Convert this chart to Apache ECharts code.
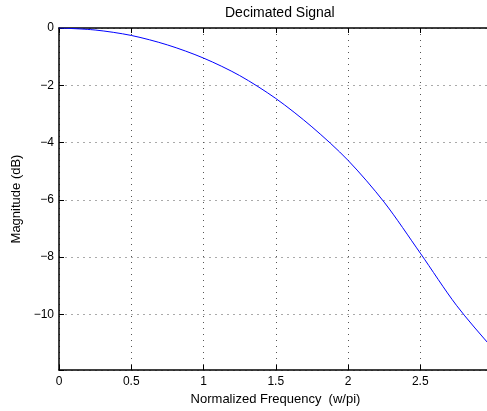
<!DOCTYPE html>
<html><head><meta charset="utf-8">
<script src="https://cdn.jsdelivr.net/npm/echarts@6/dist/echarts.min.js"></script>
<style>html,body{margin:0;padding:0;background:#fff}#c{width:487px;height:411px}</style>
</head><body><div id="c"></div>
<script>
const freq = [0, 0.25, 0.5, 0.75, 1.0, 1.25, 1.5, 1.75, 2.0, 2.25, 2.5, 2.75, 3.0, 3.1416];
const magnitude = [0, -0.07, -0.26, -0.59, -1.05, -1.66, -2.46, -3.45, -4.62, -6.08, -7.86, -9.68, -11.18, -11.94];
const xTickLabels = ['0', '0.5', '1', '1.5', '2', '2.5', '3'];
const yTickValues = [-10, -8, -6, -4, -2, 0];
const titleText = 'Decimated Signal';
const xName = 'Normalized Frequency  (w/pi)';
const yName = 'Magnitude (dB)';

const font = 'Liberation Sans, Arial, Helvetica, sans-serif';
const chart = echarts.init(document.getElementById('c'), null, {renderer: 'canvas'});
const fmtY = v => {
  const r = Math.round(v * 100) / 100;
  if (!yTickValues.includes(r)) return '';
  return r < 0 ? '\u2212' + Math.abs(r) : String(r);
};
const fmtX = v => {
  const i = Math.round(v / 0.5);
  return Math.abs(v - i * 0.5) < 1e-6 && xTickLabels[i] !== undefined ? xTickLabels[i] : '';
};
const axisLine = {show: true, onZero: false, lineStyle: {color: '#000', width: 1.5}};
const tick = {show: true, inside: true, length: 5, lineStyle: {color: '#000', width: 1}};
chart.setOption({
  animation: false,
  backgroundColor: '#fff',
  title: {text: titleText, left: 220, top: 1,
    textStyle: {fontFamily: font, fontSize: 14, fontWeight: 'normal', color: '#000'}},
  grid: {left: 59, top: 28, width: 454, bottom: 41, containLabel: false, outerBoundsMode: 'none'},
  xAxis: [{
    type: 'value', min: 0, max: Math.PI, interval: 0.5, position: 'bottom',
    axisLine: axisLine, axisTick: tick,
    axisLabel: {formatter: fmtX, fontFamily: font, fontSize: 12, color: '#000', margin: 6, showMaxLabel: true},
    splitLine: {show: true, lineStyle: {color: '#555', type: [1, 5], width: 1}},
    name: xName, nameLocation: 'middle', nameGap: 21,
    nameTextStyle: {fontFamily: font, fontSize: 13, color: '#000', padding: [0, 21, 0, 0]}
  }, {
    type: 'value', min: 0, max: Math.PI, interval: 0.5, position: 'top',
    axisLine: axisLine, axisTick: tick, axisLabel: {show: false}, splitLine: {show: false}
  }],
  yAxis: [{
    type: 'value', min: -11.94, max: 0, splitNumber: 6,
    axisLine: axisLine, axisTick: tick,
    axisLabel: {formatter: fmtY, fontFamily: font, fontSize: 12, color: '#000', margin: 5},
    splitLine: {show: true, lineStyle: {color: '#aaa', type: [2, 4], width: 1}},
    name: yName, nameLocation: 'middle', nameGap: 36, nameRotate: 90,
    nameTextStyle: {fontFamily: font, fontSize: 13, color: '#000'}
  }],
  series: [{
    type: 'line', data: freq.map((f, i) => [f, magnitude[i]]),
    showSymbol: false, smooth: 0.3, clip: true,
    lineStyle: {color: '#0000ff', width: 1}
  }]
});
</script></body></html>
